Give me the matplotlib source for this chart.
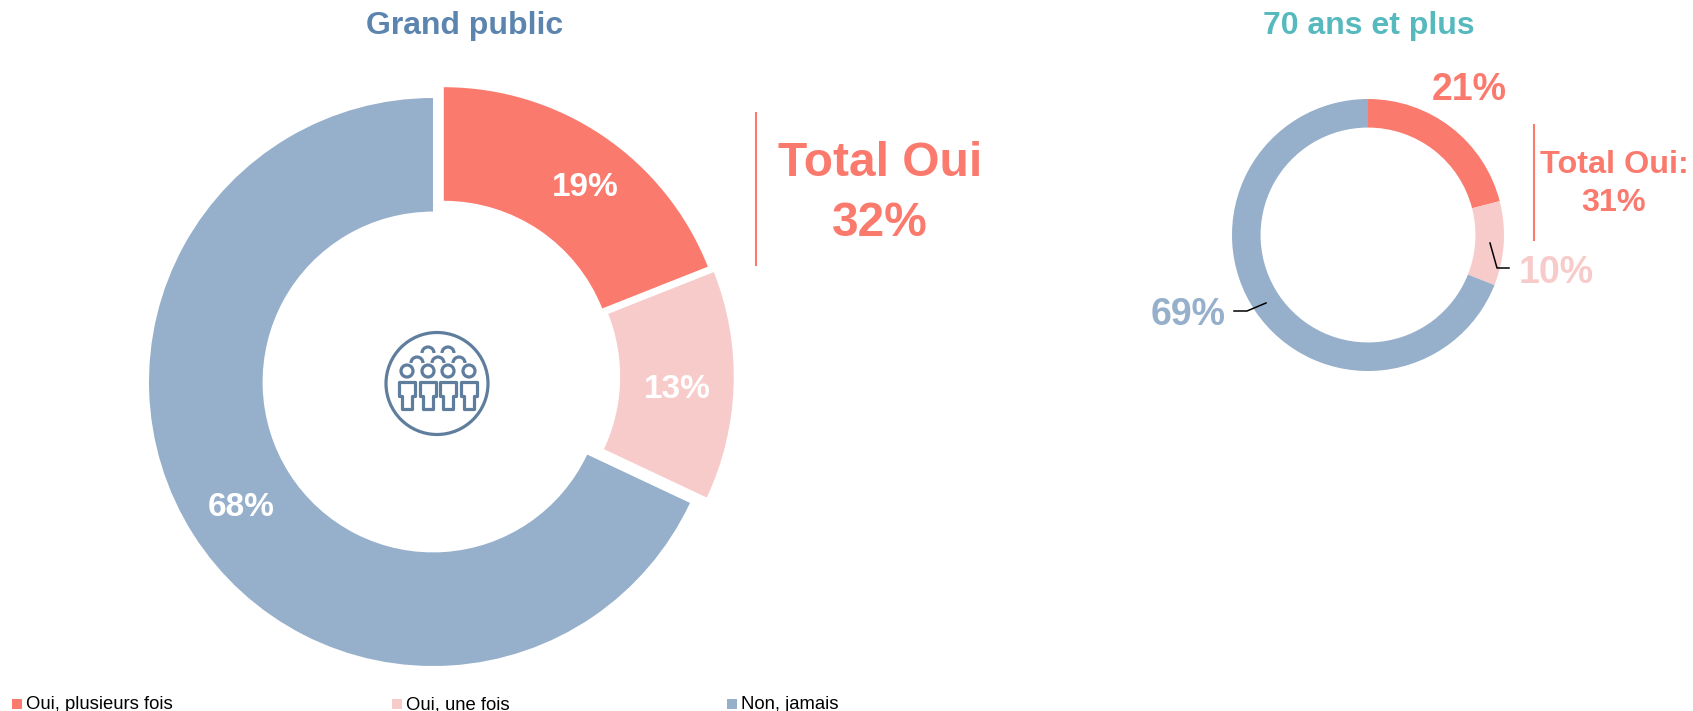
import matplotlib
matplotlib.use("Agg")
import matplotlib.pyplot as plt
from matplotlib.patches import Circle, Arc, Polygon, Rectangle

plt.rcParams['font.family'] = ['Liberation Sans', 'DejaVu Sans']

# Data
categories = ["Oui, plusieurs fois", "Oui, une fois", "Non, jamais"]
grand_public = [19, 13, 68]
plus_70 = [21, 10, 69]
total_oui_public = 32
total_oui_70 = 31

ORANGE = "#FB7A6E"
PINK = "#F8CBCB"
BLUE = "#96AFCB"
colors = [ORANGE, PINK, BLUE]
ICON = "#5F7D9C"

W, H = 1693, 711
fig = plt.figure(figsize=(W / 100, H / 100), dpi=100)


def donut_axes(cx, cy, r):
    # axes box given in pixels, pie radius 1 fills r pixels
    box = r * 1.2
    return fig.add_axes([(cx - box) / W, 1 - (cy + box) / H, 2 * box / W, 2 * box / H])


# Big donut
ax1 = donut_axes(433, 382, 284)
wedges, _ = ax1.pie(grand_public, colors=colors, startangle=90, counterclock=False, radius=1,
                    wedgeprops=dict(width=0.4, linewidth=0), frame=True)
# the two "Oui" slices are pulled out by hand, not along their middle
wedges[0].set_center((0.038, 0.038))
wedges[1].set_center((0.059, 0.019))
ax1.set_xlim(-1.2, 1.2)
ax1.set_ylim(-1.2, 1.2)
ax1.set_axis_off()

# Small donut
ax2 = donut_axes(1368, 235, 136)
ax2.pie(plus_70, colors=colors, startangle=90, counterclock=False, radius=1,
        wedgeprops=dict(width=0.21, linewidth=0), frame=True)
ax2.set_xlim(-1.2, 1.2)
ax2.set_ylim(-1.2, 1.2)
ax2.set_axis_off()

# Overlay in pixel coordinates for texts, lines and icon
ov = fig.add_axes([0, 0, 1, 1])
ov.set_xlim(0, W)
ov.set_ylim(H, 0)
ov.set_axis_off()
ov.patch.set_alpha(0)


def label(x, y, s, color, size):
    ov.text(x, y, s, color=color, fontsize=size, fontweight="bold",
            ha="center", va="center")


label(465, 26, "Grand public", "#5B84AE", 23)
label(1369, 26, "70 ans et plus", "#55B9BE", 23)

label(585, 188, f"{grand_public[0]}%", "white", 24)
label(677, 389, f"{grand_public[1]}%", "white", 24)
label(241, 508, f"{grand_public[2]}%", "white", 24)

label(880, 164, "Total Oui", ORANGE, 34.5)
label(880, 223, f"{total_oui_public}%", ORANGE, 34.5)
ov.plot([756, 756], [113, 265], color=ORANGE, lw=1.5)

label(1469, 90, f"{plus_70[0]}%", ORANGE, 27)
label(1556, 273, f"{plus_70[1]}%", PINK, 27)
label(1188, 315, f"{plus_70[2]}%", BLUE, 27)
label(1614, 165, "Total Oui:", ORANGE, 23.3)
label(1614, 203, f"{total_oui_70}%", ORANGE, 23.3)
ov.plot([1534, 1534], [125, 240], color=ORANGE, lw=1.5)

# leader lines
ov.plot([1490, 1497, 1509], [243, 268, 268], color="black", lw=1.1)
ov.plot([1266, 1247, 1234], [303, 311, 311], color="black", lw=1.1)

# People icon
ov.add_patch(Circle((437, 383.5), 51, fill=False, ec=ICON, lw=2.3))
for x in [407, 428, 448, 469]:
    ov.add_patch(Circle((x, 371), 6, fill=False, ec=ICON, lw=2.3))
    body = [(x - 8, 382), (x + 8, 382), (x + 8, 396), (x + 5, 396), (x + 5, 409),
            (x - 5, 409), (x - 5, 396), (x - 8, 396)]
    ov.add_patch(Polygon(body, closed=True, fill=False, ec=ICON, lw=2.3, joinstyle="round"))
for x in [417, 438, 459]:
    ov.add_patch(Arc((x, 363), 12, 12, theta1=180, theta2=360, ec=ICON, lw=2.3))
for x in [428, 448]:
    ov.add_patch(Arc((x, 353), 12, 12, theta1=180, theta2=360, ec=ICON, lw=2.3))

# Legend
legend_x = [12, 392, 727]
for x, name, c in zip(legend_x, categories, colors):
    ov.add_patch(Rectangle((x, 699), 10, 10, color=c, lw=0))
    ov.text(x + 14, 709, name, fontsize=13.3, color="black", ha="left", va="baseline")

fig.savefig("out.png", dpi=100, facecolor="white")
